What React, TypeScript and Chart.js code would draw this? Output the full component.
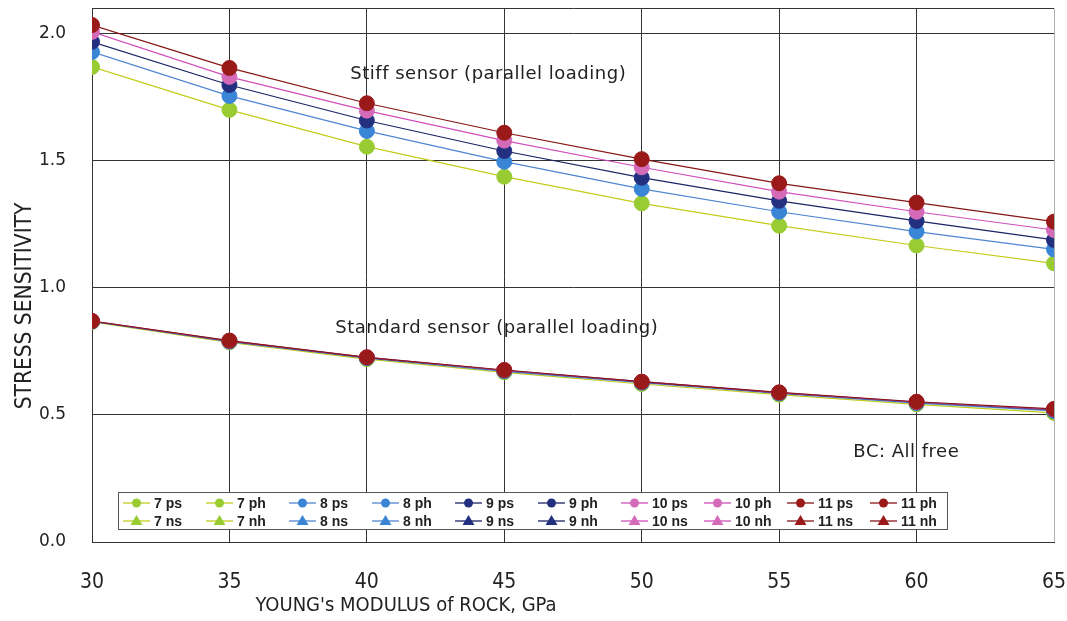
import React, { useEffect, useRef } from "react";
import { Chart, registerables } from "chart.js";

Chart.register(...registerables);

// ---- data ----
const xValues = [30, 35, 40, 45, 50, 55, 60, 65];
const sizes = ["7", "8", "9", "10", "11"];

// Stiff sensor (parallel loading) – "ps" series
const stiff7 = [1.87, 1.701, 1.556, 1.438, 1.333, 1.245, 1.167, 1.097];
const stiff8 = [1.929, 1.756, 1.618, 1.497, 1.39, 1.3, 1.222, 1.152];
const stiff9 = [1.969, 1.799, 1.659, 1.539, 1.434, 1.343, 1.264, 1.189];
const stiff10 = [2.008, 1.831, 1.698, 1.58, 1.475, 1.379, 1.3, 1.228];
const stiff11 = [2.035, 1.866, 1.727, 1.611, 1.507, 1.412, 1.336, 1.261];

// Standard sensor (parallel loading) – "ph" series
const std7 = [0.866, 0.786, 0.72, 0.668, 0.622, 0.58, 0.542, 0.508];
const std8 = [0.868, 0.789, 0.724, 0.672, 0.627, 0.585, 0.547, 0.516];
const std9 = [0.869, 0.791, 0.726, 0.675, 0.63, 0.587, 0.55, 0.52];
const std10 = [0.87, 0.792, 0.727, 0.676, 0.631, 0.588, 0.551, 0.522];
const std11 = [0.87, 0.793, 0.727, 0.677, 0.631, 0.589, 0.552, 0.524];

// "ns" / "nh" series have no visible points in the chart
const emptySeries: number[] = [];

const stiffSeries = [stiff7, stiff8, stiff9, stiff10, stiff11];
const stdSeries = [std7, std8, std9, std10, std11];

const lineColors = ["#c3cc1c", "#4f86d0", "#1c2466", "#d04fbc", "#861616"];
const markerColors = ["#99cc33", "#3a85d6", "#22307f", "#d46ab8", "#9a1a1a"];

const yTicks = [0, 0.5, 1.0, 1.5, 2.0];

const NARROW = "'Liberation Sans Narrow', 'DejaVu Sans Condensed', 'Liberation Sans', sans-serif";
const WIDE = "'DejaVu Sans', 'Liberation Sans', sans-serif";

function toPoints(arr: number[]) {
  return arr.map((y, i) => ({ x: xValues[i], y }));
}

function makeDataset(label: string, values: number[], ci: number, style: string, order: number) {
  return {
    label,
    data: toPoints(values),
    borderColor: lineColors[ci],
    backgroundColor: markerColors[ci],
    borderWidth: 1.2,
    pointRadius: 7.5,
    pointBorderWidth: 1,
    pointBorderColor: markerColors[ci],
    pointBackgroundColor: markerColors[ci],
    pointStyle: style,
    fill: false,
    tension: 0,
    order,
    _ci: ci,
  } as any;
}

const datasets: any[] = [];
sizes.forEach((s, i) => {
  datasets.push(makeDataset(`${s} ps`, stiffSeries[i], i, "circle", 0));
  datasets.push(makeDataset(`${s} ph`, stdSeries[i], i, "circle", 0));
});
sizes.forEach((s, i) => {
  datasets.push(makeDataset(`${s} ns`, emptySeries, i, "triangle", 0));
  datasets.push(makeDataset(`${s} nh`, emptySeries, i, "triangle", 0));
});
// later series are drawn on top (as in the original)
datasets.forEach((d, i) => {
  d.order = datasets.length - i;
});

const boxLegendPlugin = {
  id: "boxLegend",
  afterDatasetsDraw(chart: any) {
    const ctx = chart.ctx as CanvasRenderingContext2D;
    const { left, bottom } = chart.chartArea;
    const x0 = left + 26;
    const y0 = bottom - 50;
    const w = 829;
    const h = 37;
    ctx.save();
    ctx.fillStyle = "#ffffff";
    ctx.fillRect(x0, y0, w, h);
    ctx.strokeStyle = "#555555";
    ctx.lineWidth = 1;
    ctx.strokeRect(x0 + 0.5, y0 + 0.5, w, h);
    const ds = chart.data.datasets;
    ds.forEach((d: any, idx: number) => {
      const row = idx < 10 ? 0 : 1;
      const col = idx % 10;
      const cx = x0 + 5 + col * 83;
      const cy = y0 + (row === 0 ? 11 : 29);
      const ci = d._ci;
      ctx.strokeStyle = lineColors[ci];
      ctx.lineWidth = 1.3;
      ctx.beginPath();
      ctx.moveTo(cx, cy);
      ctx.lineTo(cx + 27, cy);
      ctx.stroke();
      ctx.fillStyle = markerColors[ci];
      const mx = cx + 13.5;
      if (d.pointStyle === "circle") {
        ctx.beginPath();
        ctx.arc(mx, cy, 4.5, 0, Math.PI * 2);
        ctx.fill();
      } else {
        ctx.beginPath();
        ctx.moveTo(mx, cy - 6);
        ctx.lineTo(mx + 6, cy + 4);
        ctx.lineTo(mx - 6, cy + 4);
        ctx.closePath();
        ctx.fill();
      }
      ctx.fillStyle = "#222222";
      ctx.font = `bold 14px 'Liberation Sans', sans-serif`;
      ctx.textBaseline = "middle";
      ctx.textAlign = "left";
      ctx.fillText(d.label, cx + 31, cy + 1);
    });
    ctx.restore();
  },
  afterDraw(chart: any) {
    const ctx = chart.ctx as CanvasRenderingContext2D;
    const xs = chart.scales.x;
    const ys = chart.scales.y;
    ctx.save();
    ctx.fillStyle = "#222222";
    ctx.textBaseline = "middle";
    ctx.textAlign = "left";
    ctx.font = `18px ${WIDE}`;
    (ctx as any).letterSpacing = "0.5px";
    ctx.fillText("Stiff sensor (parallel loading)", xs.getPixelForValue(39.4), ys.getPixelForValue(1.84));
    ctx.fillText("Standard sensor (parallel loading)", xs.getPixelForValue(38.85), ys.getPixelForValue(0.843));
    ctx.fillText("BC: All free", xs.getPixelForValue(57.7), ys.getPixelForValue(0.354));
    (ctx as any).letterSpacing = "0px";

    // axis titles
    ctx.textAlign = "center";
    ctx.font = `20px ${NARROW}`;
    ctx.fillText("YOUNG's MODULUS of ROCK, GPa", 406, 606);
    ctx.translate(25, 306);
    ctx.rotate(-Math.PI / 2);
    ctx.font = `22.5px ${NARROW}`;
    ctx.fillText("STRESS SENSITIVITY", 0, 0);
    ctx.restore();
  },
};

export default function App() {
  const canvasRef = useRef<HTMLCanvasElement | null>(null);

  useEffect(() => {
    document.body.style.margin = "0";
    const canvas = canvasRef.current;
    if (!canvas) return;
    const chart = new Chart(canvas, {
      type: "line",
      data: { datasets },
      options: {
        animation: false,
        responsive: false,
        maintainAspectRatio: false,
        layout: { padding: { top: 7, right: 13, left: 0, bottom: 0 } },
        plugins: {
          legend: { display: false },
          tooltip: { enabled: false },
          title: { display: false },
        },
        scales: {
          x: {
            type: "linear",
            min: 30,
            max: 65,
            ticks: {
              stepSize: 5,
              color: "#222222",
              padding: 28,
              font: { family: NARROW, size: 21 },
            },
            grid: {
              drawTicks: false,
              color: (c: any) => (c.tick && c.tick.value === 65 ? "#b0b0b0" : "#333333"),
              lineWidth: 1,
            },
            border: { display: true, color: "#333333" },
            afterFit: (scale: any) => {
              scale.height = 79;
              scale.paddingLeft = 0;
              scale.paddingRight = 0;
            },
          },
          y: {
            type: "linear",
            min: 0,
            max: 2.1,
            afterBuildTicks: (scale: any) => {
              scale.ticks = [...yTicks, 2.1].map((v) => ({ value: v }));
            },
            ticks: {
              color: "#222222",
              padding: 26,
              font: { family: WIDE, size: 17 },
              callback: (v: any) => (Number(v) > 2.05 ? "" : Number(v).toFixed(1)),
            },
            grid: {
              drawTicks: false,
              color: "#333333",
              lineWidth: 1,
            },
            border: { display: true, color: "#333333" },
            afterFit: (scale: any) => {
              scale.width = 92;
              scale.paddingTop = 0;
              scale.paddingBottom = 0;
            },
          },
        },
      },
      plugins: [boxLegendPlugin],
    } as any);
    return () => chart.destroy();
  }, []);

  return (
    <div style={{ width: 1067, height: 621, background: "#ffffff" }}>
      <canvas ref={canvasRef} width={1067} height={621} style={{ display: "block" }} />
    </div>
  );
}
